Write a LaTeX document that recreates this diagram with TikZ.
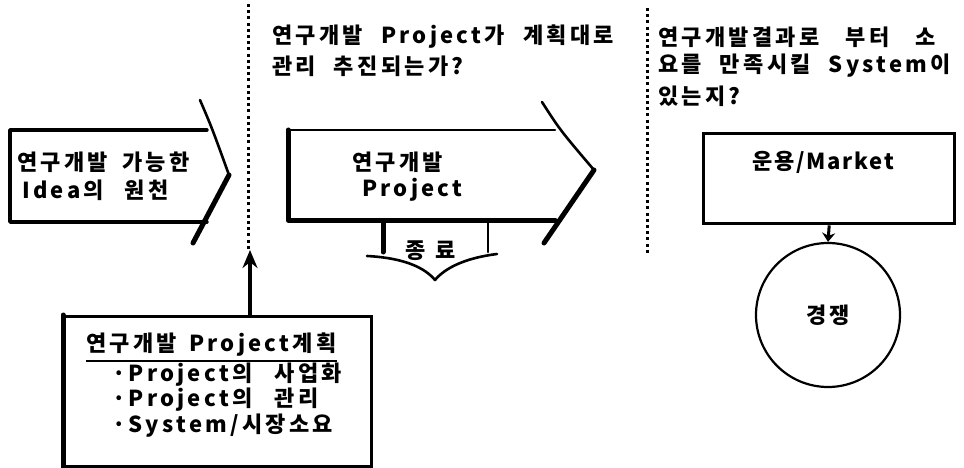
\documentclass[tikz,border=0pt]{standalone}
\usepackage{fontspec}
\setmainfont{Noto Sans CJK KR}[LetterSpace=15]
\usetikzlibrary{arrows.meta}
\newcommand{\fs}{\fontsize{22}{22}\selectfont\bfseries}
\newcommand{\gap}[1]{\hspace{#1pt}}
\begin{document}
\begin{tikzpicture}[x=1pt,y=-1pt,
  txt/.style={inner sep=0pt, anchor=west, font=\fs},
  ctxt/.style={inner sep=0pt, anchor=center, font=\fs},
  edge/.style={line width=3.4pt, line cap=round, line join=round},
  heavy/.style={line width=5pt, line cap=round, line join=round},
  thinedge/.style={line width=2.6pt, line cap=round, line join=round},
  dotline/.style={line width=3pt, dash pattern=on 3pt off 3.2pt},
  bigarrow/.style={line width=4pt, -{Stealth[length=18pt,width=15pt]}},
  smallarrow/.style={line width=3pt, -{Stealth[length=9pt,width=13pt]}}]
\useasboundingbox (0,0) rectangle (964,468);
\fill[white] (0,0) rectangle (964,468);

% dotted separators
\draw[dotline] (248,4) -- (248,250);
\draw[dotline] (647,8) -- (647,254);
\coordinate (j1) at (250,250);

% top texts
\node[txt] (q1a) at (272,37) {연구개발\gap{18}Project가\gap{18}계획대로};
\node[txt] (q1b) at (272,66) {관리\gap{18}추진되는가?};
\node[txt] (q2a) at (658,37) {연구개발결과로\gap{26}부터\gap{26}소};
\node[txt] (q2b) at (658,66) {요를\gap{18}만족시킬\gap{18}System이};
\node[txt] (q2c) at (658,96) {있는지?};

% left idea box
\draw[edge] (207,130) -- (10,130) -- (10,222) -- (207,222);
\draw[thinedge] (200,100) .. controls (212,128) .. (229,175);
\draw[heavy] (229,175) -- (193,243);
\node[txt] (idea1) at (17,162) {연구개발\gap{14}가능한};
\node[txt] (idea2) at (22,190) {Idea의\gap{21}원천};

% middle project arrow
\draw[thinedge] (555,130) -- (288,130);
\draw[heavy] (288,130) -- (288,220) -- (555,220);
\draw[thinedge] (542,102) .. controls (560,130) .. (594,170);
\draw[heavy] (594,170) -- (544,243);
\node[txt] (proj1) at (352,162) {연구개발};
\node[txt] (proj2) at (362,190) {Project};

% end bracket
\draw[heavy] (383,221) -- (383,252);
\draw[thinedge] (488,221) -- (488,252);
\draw[thinedge] (367,256) .. controls (405,258) and (425,268) .. (435,280)
  .. controls (445,268) and (465,258) .. (497,254);
\node[txt] (end) at (405,251) {종\gap{10}료};

% plan box
\node[draw, line width=3pt, minimum width=307pt, minimum height=150pt,
  anchor=north west, inner sep=0pt] (plan) at (63,315) {};
\draw[heavy] (plan.north west) -- (plan.south west);
\draw[bigarrow] (plan.north west -| j1) -- (j1);
\node[txt] (p0) at (86,345) {연구개발\gap{12}Project계획};
\draw[line width=1.8pt] ([yshift=-4pt]p0.south west) -- ([yshift=-4pt]p0.south east);
\node[txt] (p1) at (112,375) {·\gap{3}Project의\gap{22}사업화};
\node[txt] (p2) at (112,400) {·\gap{3}Project의\gap{22}관리};
\node[txt] (p3) at (112,426) {·\gap{3}System/시장소요};

% market
\node[draw, line width=3.4pt, minimum width=251pt, minimum height=90pt,
  anchor=north west, inner sep=0pt] (market) at (702,132) {};
\node[txt] (mtxt) at (752,162) {\addfontfeature{LetterSpace=8}운용/Market};
\node[draw, circle, line width=2.2pt, minimum size=144pt, inner sep=0pt,
  font=\fs] (comp) at (828,315) {경쟁};
\draw[smallarrow] (market.south) -- (comp.north);
\end{tikzpicture}
\end{document}
